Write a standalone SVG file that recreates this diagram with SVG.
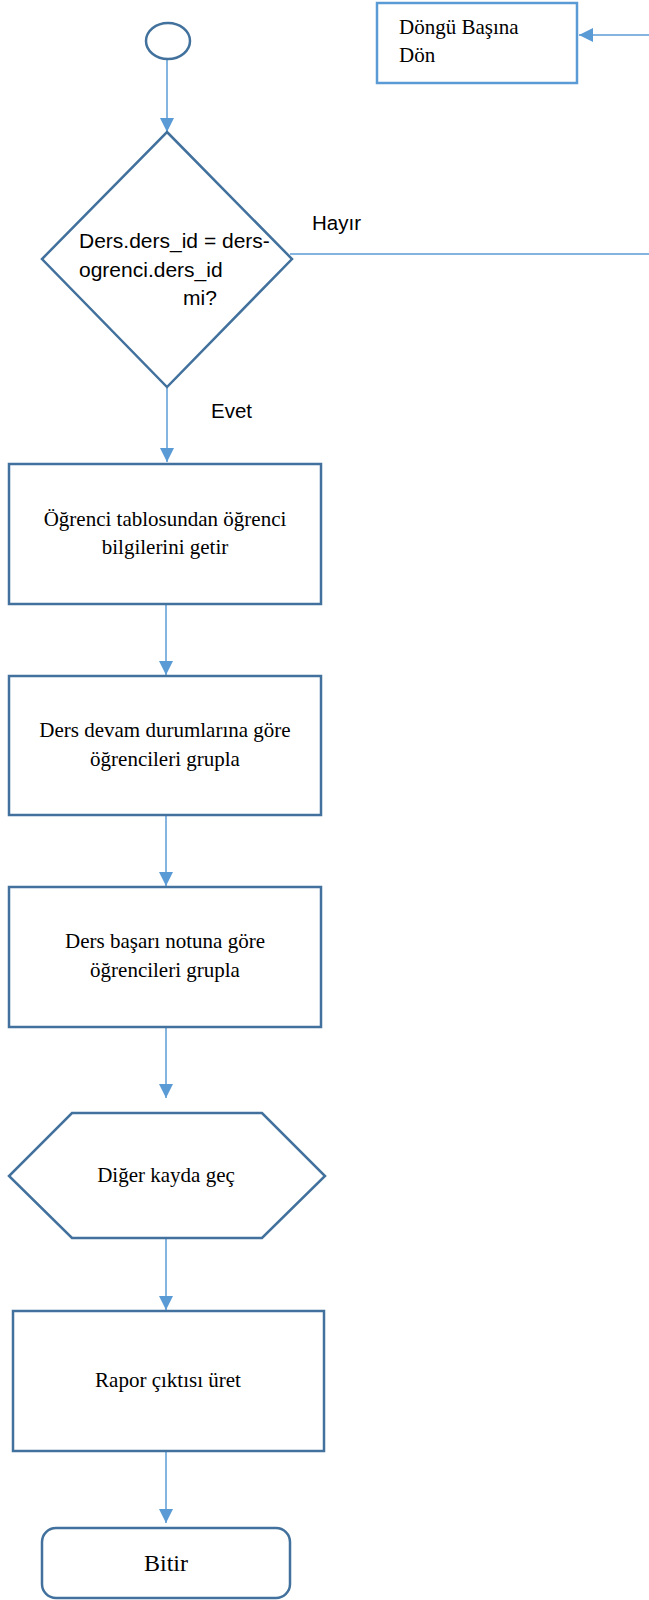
<svg xmlns="http://www.w3.org/2000/svg" width="649" height="1600" viewBox="0 0 649 1600">
<style>
.shape{fill:#fff;stroke:#41719C;stroke-width:2.5}
.loop{fill:#fff;stroke:#5B9BD5;stroke-width:2.5}
.conn{fill:none;stroke:#5B9BD5;stroke-width:1.5}
.serif{font-family:"Liberation Serif","Times New Roman",serif;font-size:21px;fill:#000}
.sans{font-family:"Liberation Sans",Arial,sans-serif;font-size:20.5px;fill:#000}
.mid{text-anchor:middle}
</style>
<defs>
<marker id="arr" viewBox="0 0 14 14" refX="14" refY="7" markerWidth="14" markerHeight="14" markerUnits="userSpaceOnUse" orient="auto">
<path d="M0,0 L14,7 L0,14 Z" fill="#5B9BD5"/>
</marker>
</defs>
<g id="connectors">
<line class="conn" x1="167" y1="60" x2="167" y2="132" marker-end="url(#arr)"/>
<line class="conn" x1="167" y1="388" x2="167" y2="462" marker-end="url(#arr)"/>
<line class="conn" x1="166" y1="605" x2="166" y2="675" marker-end="url(#arr)"/>
<line class="conn" x1="166" y1="816" x2="166" y2="886" marker-end="url(#arr)"/>
<line class="conn" x1="166" y1="1028" x2="166" y2="1098" marker-end="url(#arr)"/>
<line class="conn" x1="166" y1="1239" x2="166" y2="1310" marker-end="url(#arr)"/>
<line class="conn" x1="166" y1="1452" x2="166" y2="1523" marker-end="url(#arr)"/>
<line class="conn" x1="290" y1="254" x2="649" y2="254"/>
<line class="conn" x1="649" y1="35" x2="579" y2="35" marker-end="url(#arr)"/>
<text class="sans" x="312" y="230">Hayır</text>
<text class="sans" x="211" y="418">Evet</text>
</g>
<g id="start">
<ellipse class="shape" cx="168" cy="41" rx="22" ry="18"/>
</g>
<g id="loop-back">
<rect class="loop" x="377" y="3" width="200" height="80"/>
<text class="serif" x="399" y="34">Döngü Başına</text>
<text class="serif" x="399" y="62">Dön</text>
</g>
<g id="decision">
<polygon class="shape" points="167,132 292,259 167,387 42,259"/>
<text class="sans" font-size="21" x="79" y="248" style="font-size:21px">Ders.ders_id = ders-</text>
<text class="sans" x="79" y="277" style="font-size:21px">ogrenci.ders_id</text>
<text class="sans" x="183" y="305" style="font-size:21px">mi?</text>
</g>
<g id="fetch">
<rect class="shape" x="9" y="464" width="312" height="140"/>
<text class="serif mid" x="165" y="526">Öğrenci tablosundan öğrenci</text>
<text class="serif mid" x="165" y="554">bilgilerini getir</text>
</g>
<g id="group-attendance">
<rect class="shape" x="9" y="676" width="312" height="139"/>
<text class="serif mid" x="165" y="737">Ders devam durumlarına göre</text>
<text class="serif mid" x="165" y="766">öğrencileri grupla</text>
</g>
<g id="group-grade">
<rect class="shape" x="9" y="887" width="312" height="140"/>
<text class="serif mid" x="165" y="948">Ders başarı notuna göre</text>
<text class="serif mid" x="165" y="977">öğrencileri grupla</text>
</g>
<g id="next-record">
<polygon class="shape" points="72,1113 262,1113 325,1176 262,1238 72,1238 9,1176"/>
<text class="serif mid" x="166" y="1182">Diğer kayda geç</text>
</g>
<g id="report">
<rect class="shape" x="13" y="1311" width="311" height="140"/>
<text class="serif mid" x="168" y="1387">Rapor çıktısı üret</text>
</g>
<g id="end">
<rect class="shape" x="42" y="1528" width="248" height="70" rx="14" ry="14"/>
<text class="serif mid" x="166" y="1571" style="font-size:24px">Bitir</text>
</g>
</svg>
